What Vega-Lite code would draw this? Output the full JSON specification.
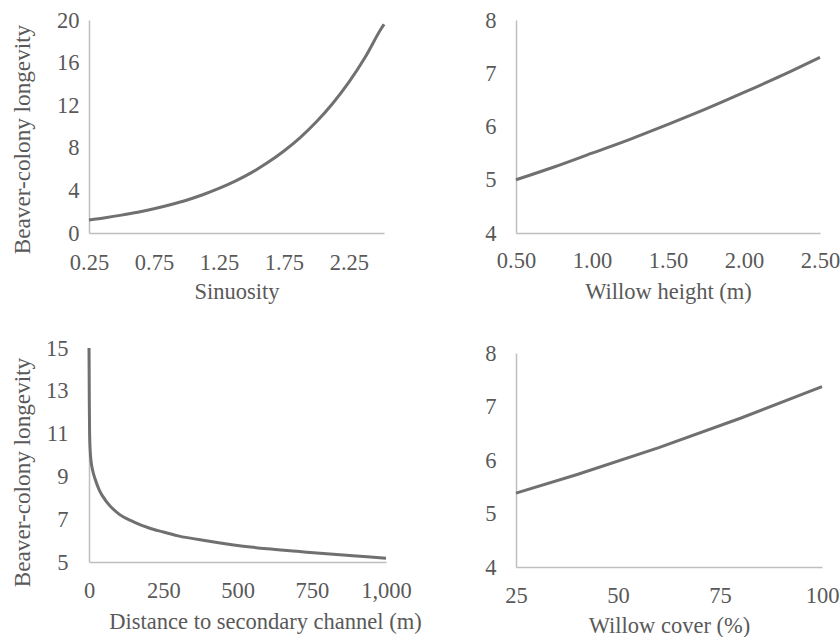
{
  "$schema": "https://vega.github.io/schema/vega-lite/v6.json",
  "background": "white",
  "padding": {"left": 9, "top": 9, "right": 0, "bottom": 0},
  "config": {
    "font": "Liberation Serif",
    "view": {"stroke": null},
    "axis": {
      "grid": false, "ticks": false, "tickSize": 0,
      "domainColor": "#bfbfbf", "domainWidth": 1.5,
      "labelColor": "#595959", "titleColor": "#595959",
      "labelFont": "Liberation Serif", "titleFont": "Liberation Serif",
      "labelFontSize": 22.5, "titleFontSize": 22.5, "titleFontWeight": "normal",
      "labelFlush": false, "labelOverlap": false, "labelBound": false
    },
    "line": {"color": "#707070", "strokeWidth": 3}
  },
  "datasets": {
    "sinuosity": [
      {"sinuosity": 0.25, "longevity": 1.23}, {"sinuosity": 0.375, "longevity": 1.44},
      {"sinuosity": 0.5, "longevity": 1.68}, {"sinuosity": 0.625, "longevity": 1.95},
      {"sinuosity": 0.75, "longevity": 2.27}, {"sinuosity": 0.875, "longevity": 2.65},
      {"sinuosity": 1.0, "longevity": 3.08}, {"sinuosity": 1.125, "longevity": 3.59},
      {"sinuosity": 1.25, "longevity": 4.18}, {"sinuosity": 1.375, "longevity": 4.87},
      {"sinuosity": 1.5, "longevity": 5.67}, {"sinuosity": 1.625, "longevity": 6.61},
      {"sinuosity": 1.75, "longevity": 7.7}, {"sinuosity": 1.875, "longevity": 8.96},
      {"sinuosity": 2.0, "longevity": 10.44}, {"sinuosity": 2.125, "longevity": 12.16},
      {"sinuosity": 2.25, "longevity": 14.16}, {"sinuosity": 2.375, "longevity": 16.5},
      {"sinuosity": 2.5, "longevity": 19.22}, {"sinuosity": 2.52, "longevity": 19.6}
    ],
    "height": [
      {"height": 0.5, "longevity": 5.0}, {"height": 0.75, "longevity": 5.24},
      {"height": 1.0, "longevity": 5.5}, {"height": 1.25, "longevity": 5.76},
      {"height": 1.5, "longevity": 6.04}, {"height": 1.75, "longevity": 6.33},
      {"height": 2.0, "longevity": 6.64}, {"height": 2.25, "longevity": 6.96},
      {"height": 2.5, "longevity": 7.3}
    ],
    "distance": [
      {"distance": 0, "longevity": 15.0}, {"distance": 1, "longevity": 12.5},
      {"distance": 2, "longevity": 11.0}, {"distance": 4, "longevity": 10.2},
      {"distance": 7, "longevity": 9.7}, {"distance": 12, "longevity": 9.3},
      {"distance": 20, "longevity": 8.9}, {"distance": 35, "longevity": 8.35},
      {"distance": 60, "longevity": 7.8}, {"distance": 100, "longevity": 7.25},
      {"distance": 150, "longevity": 6.88}, {"distance": 200, "longevity": 6.6},
      {"distance": 250, "longevity": 6.4}, {"distance": 300, "longevity": 6.22},
      {"distance": 400, "longevity": 5.98}, {"distance": 500, "longevity": 5.77},
      {"distance": 600, "longevity": 5.62}, {"distance": 700, "longevity": 5.5},
      {"distance": 800, "longevity": 5.38}, {"distance": 900, "longevity": 5.28},
      {"distance": 1000, "longevity": 5.18}
    ],
    "cover": [
      {"cover": 25, "longevity": 5.38}, {"cover": 40, "longevity": 5.73},
      {"cover": 60, "longevity": 6.23}, {"cover": 80, "longevity": 6.78},
      {"cover": 100, "longevity": 7.37}
    ]
  },
  "spacing": 62,
  "hconcat": [
    {
      "bounds": "flush",
      "spacing": 115,
      "vconcat": [
        {
          "data": {"name": "sinuosity"},
          "width": 295, "height": 213,
          "mark": {"type": "line", "interpolate": "monotone"},
          "encoding": {
            "x": {"field": "sinuosity", "type": "quantitative",
              "scale": {"domain": [0.25, 2.52], "nice": false, "zero": false},
              "axis": {"values": [0.25, 0.75, 1.25, 1.75, 2.25], "format": ".2f", "title": "Sinuosity",
                "labelPadding": 36, "labelBaseline": "alphabetic", "titleY": 65, "titleBaseline": "alphabetic"}},
            "y": {"field": "longevity", "type": "quantitative",
              "scale": {"domain": [0, 20], "nice": false},
              "axis": {"values": [0, 4, 8, 12, 16, 20], "title": "Beaver-colony longevity", "titleFontSize": 23.2,
                "labelPadding": 10, "titleX": -55, "titleY": 119}}
          }
        },
        {
          "data": {"name": "distance"},
          "width": 297, "height": 214,
          "mark": {"type": "line", "interpolate": "monotone"},
          "encoding": {
            "x": {"field": "distance", "type": "quantitative",
              "scale": {"domain": [0, 1000], "nice": false, "zero": false},
              "axis": {"values": [0, 250, 500, 750, 1000], "format": ",.0f", "title": "Distance to secondary channel (m)",
                "labelPadding": 35, "labelBaseline": "alphabetic", "titleY": 66, "titleX": 176, "titleBaseline": "alphabetic"}},
            "y": {"field": "longevity", "type": "quantitative",
              "scale": {"domain": [5, 15], "nice": false, "zero": false},
              "axis": {"values": [5, 7, 9, 11, 13, 15], "title": "Beaver-colony longevity", "titleFontSize": 23.2,
                "labelPadding": 21, "titleX": -55, "titleY": 124}}
          }
        }
      ]
    },
    {
      "bounds": "flush",
      "spacing": 120,
      "vconcat": [
        {
          "data": {"name": "height"},
          "width": 304, "height": 213,
          "mark": {"type": "line", "interpolate": "monotone"},
          "encoding": {
            "x": {"field": "height", "type": "quantitative",
              "scale": {"domain": [0.5, 2.5], "nice": false, "zero": false},
              "axis": {"values": [0.5, 1.0, 1.5, 2.0, 2.5], "format": ".2f", "title": "Willow height (m)",
                "labelPadding": 34, "labelBaseline": "alphabetic", "titleY": 65, "titleBaseline": "alphabetic"}},
            "y": {"field": "longevity", "type": "quantitative",
              "scale": {"domain": [4, 8], "nice": false, "zero": false},
              "axis": {"values": [4, 5, 6, 7, 8], "title": null, "labelPadding": 20}}
          }
        },
        {
          "data": {"name": "cover"},
          "width": 306, "height": 214,
          "mark": {"type": "line", "interpolate": "linear"},
          "encoding": {
            "x": {"field": "cover", "type": "quantitative",
              "scale": {"domain": [25, 100], "nice": false, "zero": false},
              "axis": {"values": [25, 50, 75, 100], "title": "Willow cover (%)",
                "labelPadding": 35, "labelBaseline": "alphabetic", "titleY": 65, "titleBaseline": "alphabetic"}},
            "y": {"field": "longevity", "type": "quantitative",
              "scale": {"domain": [4, 8], "nice": false, "zero": false},
              "axis": {"values": [4, 5, 6, 7, 8], "title": null, "labelPadding": 20}}
          }
        }
      ]
    }
  ]
}
